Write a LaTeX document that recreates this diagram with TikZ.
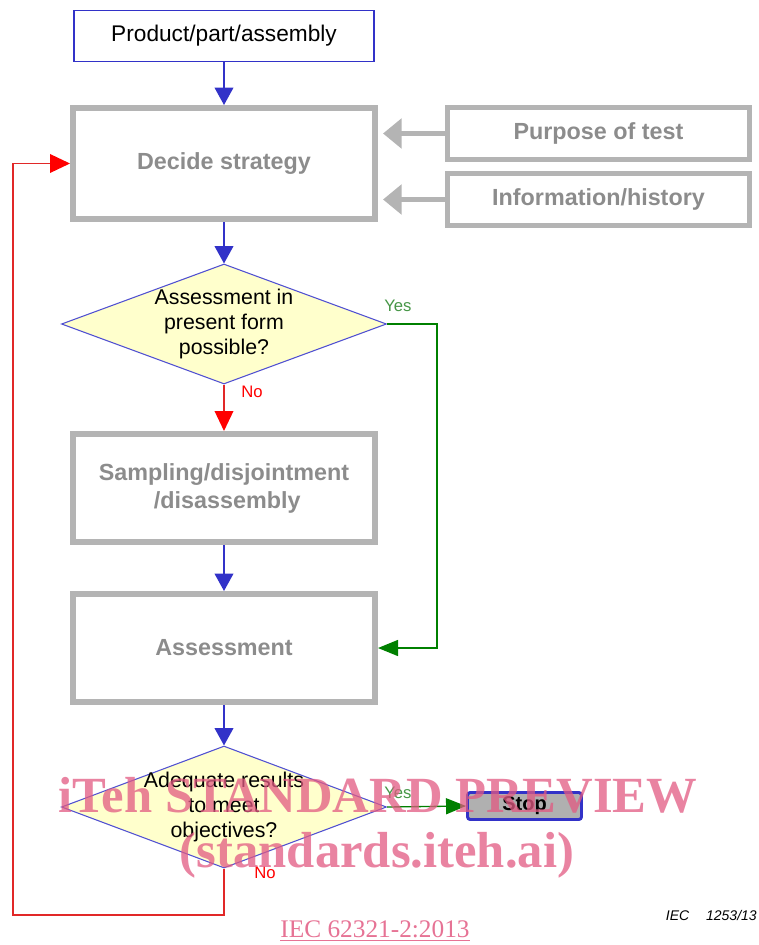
\documentclass[tikz,border=0pt]{standalone}
\usepackage{fontspec}
\setmainfont{Liberation Sans}
\newfontfamily\wmfont{Liberation Serif}
\usetikzlibrary{shapes.geometric,arrows.meta,calc}
\definecolor{bblue}{RGB}{50,50,200}
\definecolor{dblue}{RGB}{80,80,210}
\definecolor{gbox}{RGB}{180,180,180}
\definecolor{gtext}{RGB}{140,140,140}
\definecolor{dfill}{RGB}{255,255,204}
\definecolor{dgreen}{RGB}{0,128,0}
\definecolor{lgreen}{RGB}{70,150,70}
\definecolor{rline}{RGB}{225,40,40}
\definecolor{wmpink}{RGB}{226,90,130}
\definecolor{stopfill}{RGB}{176,176,176}
\begin{document}
\begin{tikzpicture}[x=0.75pt,y=-0.75pt,
  graybox/.style={draw=gbox,line width=4.5pt,outer sep=2.25pt,minimum width=226.5pt,minimum height=81pt,inner sep=0pt,text=gtext,font=\fontsize{17.5}{21}\selectfont\bfseries,align=center},
  sidebox/.style={draw=gbox,line width=3.75pt,outer sep=1.9pt,minimum width=226.5pt,minimum height=39pt,inner sep=0pt,text=gtext,font=\fontsize{17.5}{21}\selectfont\bfseries},
  topbox/.style={draw=bblue,line width=1.1pt,minimum width=225pt,minimum height=38.5pt,inner sep=0pt,font=\fontsize{17}{20}\selectfont},
  decision/.style={diamond,draw=dblue,line width=0.8pt,fill=dfill,inner sep=0pt,minimum width=243.75pt},
  dtext/.style={align=center,font=\fontsize{16}{18.75}\selectfont},
  stopbox/.style={draw=bblue,line width=2.2pt,rounded corners=2pt,fill=stopfill,minimum width=85.5pt,minimum height=20.25pt,inner sep=0pt,font=\fontsize{15}{18}\selectfont\bfseries},
  bluearr/.style={draw=bblue,line width=1.2pt,-{Triangle[width=14pt,length=13pt]}},
  grayarr/.style={draw=gbox,line width=3.75pt,-{Triangle[width=22pt,length=14pt]},shorten >=3.75pt},
  redarr/.style={draw=rline,line width=1.1pt,-{Triangle[width=14pt,length=15pt,fill=red,color=red]}},
  greenarr/.style={draw=dgreen,line width=1pt,-{Triangle[width=12pt,length=15pt]}},
  lab/.style={font=\fontsize{12.5}{14}\selectfont,inner sep=0pt,anchor=west},
  wm/.style={text=wmpink,opacity=0.75,font=\wmfont\bfseries\fontsize{38}{40}\selectfont}
]
\useasboundingbox (0,0) rectangle (758,945);

% nodes
\node[topbox] (prod) at (224,36) {Product/part/assembly};
\node[graybox,minimum height=83.25pt] (dec) at (224,163.5) {Decide strategy};
\node[sidebox] (purp) at (598.5,133.5) {Purpose of test};
\node[sidebox] (info) at (598.5,199.5) {Information/history};
\node[decision,minimum height=90pt] (d1) at (224,324) {};
\node[dtext] (d1t) at (224,324) {Assessment in\\present form\\possible?};
\node[graybox] (samp) at (224,488) {Sampling/disjointment\\ \ /disassembly};
\node[graybox] (assess) at (224,648) {Assessment};
\node[decision,minimum height=91.5pt] (d2) at (224,807) {};
\node[dtext] (d2t) at (224,807) {Adequate results\\to meet\\objectives?};
\node[stopbox] (stop) at (524.5,806) {Stop};
\coordinate (lp) at (13,915);

% connectors
\draw[bluearr] (prod.south) -- (dec.north);
\draw[grayarr] (purp.west) -- (purp.west -| dec.east);
\draw[grayarr] (info.west) -- (info.west -| dec.east);
\draw[bluearr] (dec.south) -- (d1.north);
\draw[redarr] (d1.south) -- (samp.north);
\draw[greenarr] (d1.east) -- ++(50,0) |- (assess.east);
\draw[bluearr] (samp.south) -- (assess.north);
\draw[bluearr] (assess.south) -- (d2.north);
\draw[greenarr] (d2.east) -- (stop.west);
\draw[redarr] (d2.south) |- (lp) |- (dec.west);

% labels
\node[lab,text=lgreen] (y1) at (384,306) {Yes};
\node[lab,text=red] (n1) at (241,392) {No};
\node[lab,text=lgreen] (y2) at (384,793) {Yes};
\node[lab,text=red] (n2) at (254,873) {No};
\node[font=\itshape\fontsize{10.5}{12}\selectfont,anchor=east,inner sep=0pt] (iec) at (757,915) {IEC\hspace{1.2em}1253/13};

% watermark
\node[wm] (w1) at (378,795) {iTeh STANDARD PREVIEW};
\node[wm] (w2) at (377,855) {(standards.iteh.ai)};
\node[text=wmpink,opacity=0.85,font=\wmfont\fontsize{19}{22}\selectfont] (w3) at (375,931) {\underline{IEC 62321-2:2013}};
\end{tikzpicture}
\end{document}
